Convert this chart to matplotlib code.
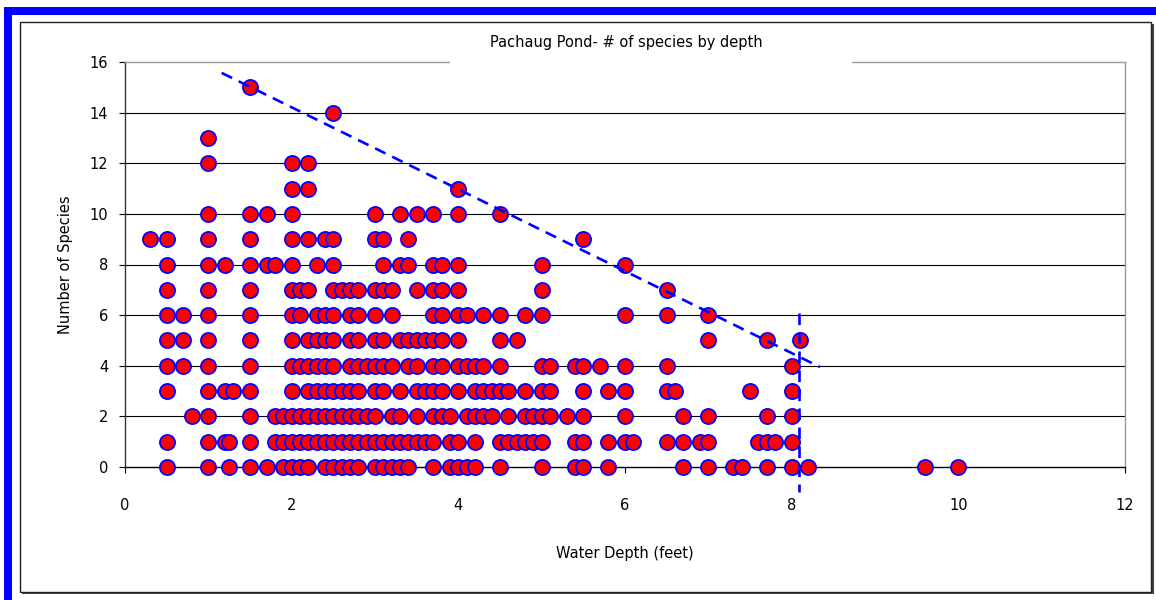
import matplotlib
matplotlib.use("Agg")
import matplotlib.pyplot as plt
from matplotlib.patches import Rectangle

# ---- data: water depth (ft) of samples, grouped by number of species ----
depth_sp0 = [0.5, 1.0, 1.25, 1.5, 1.7, 1.9, 2.0, 2.1, 2.2, 2.4, 2.5, 2.6, 2.7, 2.8, 3.0, 3.1,
             3.2, 3.3, 3.4, 3.7, 3.9, 4.0, 4.1, 4.2, 4.5, 5.0, 5.4, 5.5, 5.8, 6.7, 7.0, 7.3,
             7.4, 7.7, 8.0, 8.2, 9.6, 10.0]
depth_sp1 = [0.5, 1.0, 1.2, 1.25, 1.5, 1.8, 1.9, 2.0, 2.1, 2.2, 2.3, 2.4, 2.5, 2.6, 2.7, 2.8,
             2.9, 3.0, 3.1, 3.2, 3.3, 3.4, 3.5, 3.6, 3.7, 3.9, 4.0, 4.2, 4.5, 4.6, 4.7, 4.8,
             4.9, 5.0, 5.4, 5.5, 5.8, 6.0, 6.1, 6.5, 6.7, 6.9, 7.0, 7.6, 7.7, 7.8, 8.0]
depth_sp2 = [0.8, 1.0, 1.5, 1.8, 1.9, 2.0, 2.1, 2.2, 2.3, 2.4, 2.5, 2.6, 2.7, 2.8, 2.9, 3.0,
             3.2, 3.3, 3.5, 3.7, 3.8, 3.9, 4.1, 4.2, 4.3, 4.4, 4.6, 4.8, 4.9, 5.0, 5.1, 5.3,
             5.5, 6.0, 6.7, 7.0, 7.7, 8.0]
depth_sp3 = [0.5, 1.0, 1.2, 1.3, 1.5, 2.0, 2.2, 2.3, 2.4, 2.5, 2.6, 2.7, 2.8, 3.0, 3.1, 3.3,
             3.5, 3.6, 3.7, 3.8, 4.0, 4.2, 4.3, 4.4, 4.5, 4.6, 4.8, 5.0, 5.1, 5.5, 5.8, 6.0,
             6.5, 6.6, 7.5, 8.0]
depth_sp4 = [0.5, 0.7, 1.0, 1.5, 2.0, 2.1, 2.2, 2.3, 2.4, 2.5, 2.7, 2.8, 2.9, 3.0, 3.1, 3.2,
             3.4, 3.5, 3.7, 3.8, 4.0, 4.1, 4.2, 4.3, 4.5, 5.0, 5.1, 5.4, 5.5, 5.7, 6.0, 6.5, 8.0]
depth_sp5 = [0.5, 0.7, 1.0, 1.5, 2.0, 2.2, 2.3, 2.4, 2.5, 2.7, 2.8, 3.0, 3.1, 3.3, 3.4, 3.5,
             3.6, 3.7, 3.8, 4.0, 4.5, 4.7, 7.0, 7.7, 8.1]
depth_sp6 = [0.5, 0.7, 1.0, 1.5, 2.0, 2.1, 2.3, 2.4, 2.5, 2.7, 2.8, 3.0, 3.2, 3.7, 3.8, 4.0,
             4.1, 4.3, 4.5, 4.8, 5.0, 6.0, 6.5, 7.0]
depth_sp7 = [0.5, 1.0, 1.5, 2.0, 2.1, 2.2, 2.5, 2.6, 2.7, 2.8, 3.0, 3.1, 3.2, 3.5, 3.7, 3.8,
             4.0, 5.0, 6.5]
depth_sp8 = [0.5, 1.0, 1.2, 1.5, 1.7, 1.8, 2.0, 2.3, 2.5, 3.1, 3.3, 3.4, 3.7, 3.8, 4.0, 5.0, 6.0]
depth_sp9 = [0.3, 0.5, 1.0, 1.5, 2.0, 2.2, 2.4, 2.5, 3.0, 3.1, 3.4, 5.5]
depth_sp10 = [1.0, 1.5, 1.7, 2.0, 3.0, 3.3, 3.5, 3.7, 4.0, 4.5]
depth_sp11 = [2.0, 2.2, 4.0]
depth_sp12 = [1.0, 2.0, 2.2]
depth_sp13 = [1.0]
depth_sp14 = [2.5]
depth_sp15 = [1.5]

species_rows = [depth_sp0, depth_sp1, depth_sp2, depth_sp3, depth_sp4, depth_sp5, depth_sp6,
                depth_sp7, depth_sp8, depth_sp9, depth_sp10, depth_sp11, depth_sp12,
                depth_sp13, depth_sp14, depth_sp15]

# hand-drawn boundary lines
trend_x = [1.16, 8.34]
trend_y = [15.57, 3.95]
cutoff_x = [8.09, 8.09]
cutoff_y = [6.1, -1.0]

x_ticks = [0, 2, 4, 6, 8, 10, 12]
y_ticks = [0, 2, 4, 6, 8, 10, 12, 14, 16]

W, H = 1156, 600
fig = plt.figure(figsize=(W / 100, H / 100), dpi=100)
fig.patch.set_facecolor("white")

def fx(px):
    return px / W

def fy(py):
    return 1 - py / H

# blue frame (top band and left bar)
fig.patches.append(Rectangle((fx(4), fy(15)), 1 - fx(4), fy(7) - fy(15),
                             transform=fig.transFigure, facecolor="#0000ff",
                             edgecolor="none", zorder=-3))
fig.patches.append(Rectangle((fx(4), 0), fx(12) - fx(4), fy(15),
                             transform=fig.transFigure, facecolor="#0000ff",
                             edgecolor="none", zorder=-3))
# chart box with shadow
fig.patches.append(Rectangle((fx(21.5), fy(594)), fx(1153.5) - fx(21.5), fy(24) - fy(594),
                             transform=fig.transFigure, facecolor="#444444",
                             edgecolor="none", zorder=-2))
fig.patches.append(Rectangle((fx(19.5), fy(592)), fx(1151) - fx(19.5), fy(22) - fy(592),
                             transform=fig.transFigure, facecolor="white",
                             edgecolor="#222222", linewidth=1.0, zorder=-1))

ax = fig.add_axes([fx(125), fy(467), fx(1125) - fx(125), fy(62) - fy(467)])
ax.set_zorder(1)
ax.set_xlim(0, 12)
ax.set_ylim(0, 16)

for y in y_ticks[1:-1]:
    ax.axhline(y, color="black", linewidth=0.8, zorder=1)

for n, depths in enumerate(species_rows):
    ax.scatter(depths, [n] * len(depths), s=118, facecolor="#ff0000",
               edgecolor="#0000ff", linewidth=1.3, zorder=3, clip_on=False)

ax.plot(trend_x, trend_y, color="#0000ff", linewidth=1.9, dashes=(4.4, 2.8),
        zorder=4, clip_on=False)
ax.plot(cutoff_x, cutoff_y, color="#0000ff", linewidth=1.9, dashes=(4.4, 2.8),
        zorder=4, clip_on=False)

ax.set_xticks(x_ticks)
ax.set_yticks(y_ticks)
ax.tick_params(axis="both", direction="out", length=4, width=0.8, color="black",
               labelsize=10.5)
ax.tick_params(axis="x", pad=18)
ax.tick_params(axis="y", pad=8)

for side in ["top", "right"]:
    ax.spines[side].set_color("#999999")
    ax.spines[side].set_linewidth(1.0)
ax.spines["left"].set_color("#333333")
ax.spines["bottom"].set_color("black")
ax.spines["left"].set_linewidth(1.0)
ax.spines["bottom"].set_linewidth(1.0)
ax.set_facecolor("white")

ax.set_xlabel("Water Depth (feet)", fontsize=10.5, labelpad=24)
ax.set_ylabel("Number of Species", fontsize=10.5, labelpad=12)

# title in white box overlapping top border
fig.patches.append(Rectangle((fx(450), fy(66)), fx(852) - fx(450), fy(26) - fy(66),
                             transform=fig.transFigure, facecolor="white",
                             edgecolor="none", zorder=5))
fig.text(fx(626), fy(43), "Pachaug Pond- # of species by depth", ha="center",
         va="center", fontsize=10.5, zorder=6)

fig.savefig("out.png", dpi=100)
